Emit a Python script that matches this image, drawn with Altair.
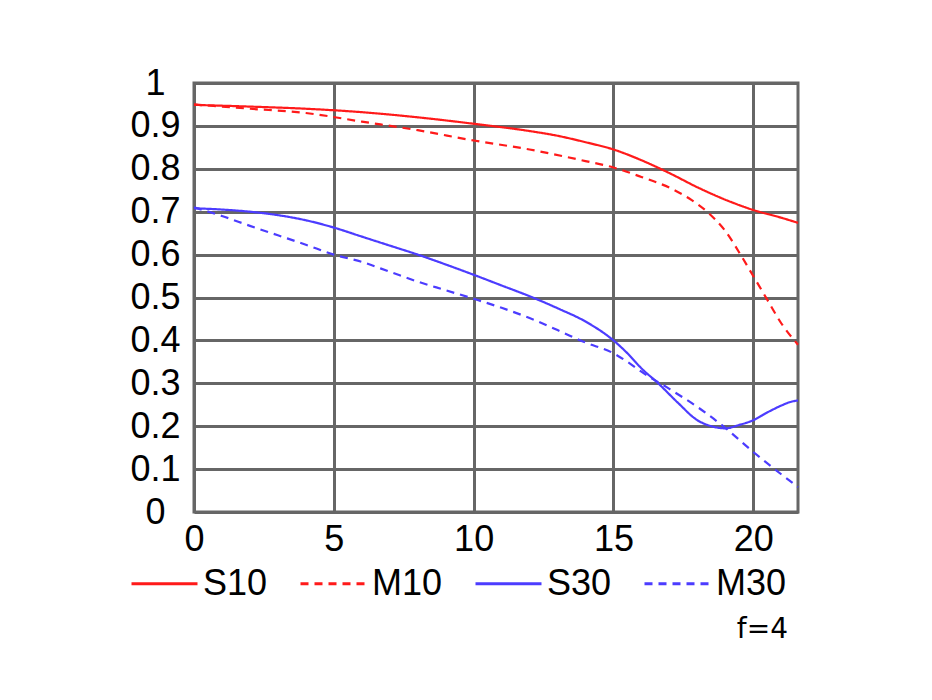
import altair as alt
import pandas as pd

series_names = ["S10", "M10", "S30", "M30"]
series_colors = ["#ff1a1a", "#ff1a1a", "#4c3cff", "#4c3cff"]
series_dash = [[1, 0], [8, 6], [1, 0], [8, 6]]

s10_x = [0, 2, 4, 6, 8, 10, 12, 13, 14, 15, 16, 17, 18, 19, 20, 21, 21.6]
s10_y = [0.949, 0.945, 0.94, 0.932, 0.92, 0.905, 0.888, 0.877, 0.862, 0.845, 0.82, 0.79, 0.757, 0.728, 0.704, 0.686, 0.674]

m10_x = [0, 2, 4, 6, 8, 10, 12, 14, 15, 16, 17, 17.8, 18.4, 19, 19.6, 20, 20.5, 21, 21.6]
m10_y = [0.95, 0.94, 0.93, 0.91, 0.89, 0.866, 0.845, 0.818, 0.803, 0.781, 0.756, 0.727, 0.697, 0.655, 0.594, 0.55, 0.495, 0.44, 0.39]

s30_x = [0, 1, 2, 3, 4, 5, 6, 7, 8, 9, 10, 11, 12, 13, 14, 15, 15.5, 16, 16.6, 17.3, 18, 18.5, 19, 19.5, 20, 20.5, 21, 21.3, 21.6]
s30_y = [0.708, 0.705, 0.70, 0.692, 0.68, 0.663, 0.642, 0.621, 0.60, 0.577, 0.553, 0.528, 0.503, 0.475, 0.444, 0.40, 0.37, 0.335, 0.30, 0.255, 0.214, 0.2, 0.195, 0.203, 0.214, 0.232, 0.248, 0.256, 0.26]

m30_x = [0, 1, 2, 3, 4, 5, 6, 7, 8, 9, 10, 11, 12, 13, 14, 15, 15.5, 16, 17, 18, 19, 20, 21, 21.6]
m30_y = [0.71, 0.69, 0.667, 0.645, 0.623, 0.60, 0.583, 0.56, 0.537, 0.517, 0.497, 0.476, 0.452, 0.424, 0.395, 0.37, 0.35, 0.327, 0.287, 0.245, 0.196, 0.14, 0.088, 0.058]

x_ticks = [0, 5, 10, 15, 20]
y_ticks = [0, 0.1, 0.2, 0.3, 0.4, 0.5, 0.6, 0.7, 0.8, 0.9, 1.0]
note_text = "f=4"

rows = []
for name, xs, ys in [("S10", s10_x, s10_y), ("M10", m10_x, m10_y),
                     ("S30", s30_x, s30_y), ("M30", m30_x, m30_y)]:
    for i, (a, b) in enumerate(zip(xs, ys)):
        rows.append({"series": name, "x": a, "v": b, "i": i})
df = pd.DataFrame(rows)

legend = alt.Legend(title=None)

lines = alt.Chart(df).mark_line(strokeWidth=2.2, interpolate="monotone").encode(
    x=alt.X("x:Q", scale=alt.Scale(domain=[0, 21.6], nice=False, zero=False),
            axis=alt.Axis(values=x_ticks, title=None, labelFlush=False,
                          labelPadding=10, labelBaseline="top")),
    y=alt.Y("v:Q", scale=alt.Scale(domain=[0, 1], nice=False),
            axis=alt.Axis(values=y_ticks, title=None, format=".1~f",
                          labelAlign="center", labelPadding=39, labelBaseline="middle")),
    color=alt.Color("series:N", scale=alt.Scale(domain=series_names, range=series_colors), legend=legend),
    strokeDash=alt.StrokeDash("series:N", scale=alt.Scale(domain=series_names, range=series_dash), legend=legend),
    order="i:Q",
)

note = alt.Chart(pd.DataFrame({"t": [note_text]})).mark_text(
    align="right", baseline="alphabetic", font="DejaVu Sans", fontSize=28, color="black"
).encode(text="t:N", x=alt.value(594), y=alt.value(555))

chart = alt.layer(lines, note).properties(
    width=604, height=429,
    autosize=alt.AutoSizeParams(type="none"),
    padding={"left": 186, "top": 75, "right": 120, "bottom": 180},
).configure_view(
    stroke="#666666", strokeWidth=3
).configure_axis(
    labelFont="Liberation Sans", labelFontSize=36, labelColor="black",
    ticks=False, tickSize=0, domain=False, grid=True,
    gridColor="#666666", gridWidth=3, gridOpacity=1, labelOverlap=False,
).configure_legend(
    orient="none", legendX=-64, legendY=466, direction="horizontal", columns=4,
    symbolType="stroke", symbolSize=4356, symbolStrokeWidth=3,
    labelFont="Liberation Sans", labelFontSize=36, labelColor="black",
    labelOffset=4, columnPadding=26, padding=0, labelLimit=200, gridAlign="each",
)

chart.save("out.html", embed_options={"renderer": "svg", "actions": False})
